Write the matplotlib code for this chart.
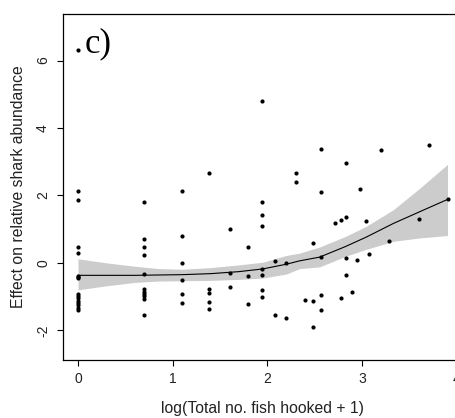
import matplotlib
matplotlib.use("Agg")
import matplotlib.pyplot as plt
import numpy as np

plt.rcParams['font.family'] = ['Liberation Sans', 'DejaVu Sans']

# Observed points: x = log(total fish hooked + 1), y = effect
px_x = [0]*16 + [0.693]*11 + [1.099]*6 + [1.386]*5 + [1.609]*3 + [1.792]*3 + \
       [1.946]*8 + [2.079]*2 + [2.197]*2 + [2.303]*2 + [2.398] + [2.485]*3 + \
       [2.565]*5 + [2.71] + [2.773]*2 + [2.833]*4 + [2.89, 2.94, 2.98, 3.04, 3.07, 3.20, 3.28, 3.60, 3.70, 3.90]
px_y = [6.30, 2.14, 1.85, 0.47, 0.29, -0.38, -0.42, -0.46, -0.91, -0.98, -1.05, -1.12, -1.19, -1.26, -1.33, -1.40,
        1.79, 0.70, 0.46, 0.23, -0.32, -0.78, -0.85, -0.92, -0.99, -1.07, -1.55,
        2.14, 0.79, -0.01, -0.52, -0.92, -1.19,
        2.66, -0.78, -0.88, -1.17, -1.37,
        1.01, -0.29, -0.73,
        0.47, -0.38, -1.21,
        4.80, 1.79, 1.42, 1.10, -0.17, -0.36, -0.80, -1.01,
        0.05, -1.55,
        0.00, -1.63,
        2.66, 2.39,
        -1.10,
        0.58, -1.13, -1.91,
        3.38, 2.09, 0.17, -0.95, -1.39,
        1.19,
        1.27, -1.04,
        2.96, 1.37, 0.14, -0.35,
        -0.85, 0.08, 2.18, 1.25, 0.26, 3.35, 0.65, 1.30, 3.48, 1.89]

# Smooth fit and confidence band
fit_x = [0, 0.3, 0.6, 0.85, 1.1, 1.4, 1.7, 1.95, 2.2, 2.34, 2.55, 2.82, 3.04, 3.33, 3.61, 3.9]
fit_y = [-0.37, -0.37, -0.37, -0.36, -0.35, -0.32, -0.26, -0.18, -0.04, 0.06, 0.17, 0.48, 0.76, 1.17, 1.52, 1.88]
fit_hi = [0.12, 0.0, -0.10, -0.17, -0.19, -0.14, -0.06, 0.02, 0.22, 0.29, 0.47, 0.78, 1.08, 1.58, 2.22, 2.92]
fit_lo = [-0.80, -0.68, -0.58, -0.54, -0.53, -0.52, -0.49, -0.45, -0.33, -0.17, -0.12, 0.19, 0.40, 0.64, 0.74, 0.81]

xticks = [0, 1, 2, 3, 4]
yticks = [-2, 0, 2, 4, 6]

fig = plt.figure(figsize=(4.55, 4.18), dpi=100)
ax = fig.add_axes([0.139, 0.1388, 0.877, 0.8278])

ax.fill_between(fit_x, fit_lo, fit_hi, color='#cccccc', linewidth=0, zorder=1)
ax.plot(fit_x, fit_y, color='black', linewidth=0.8, zorder=2)
ax.plot(px_x, px_y, 'o', color='black', markersize=3.0, markeredgewidth=0, zorder=3)

ax.set_xlim(-0.156, 4.056)
ax.set_ylim(-2.88, 7.38)
ax.set_xticks(xticks)
ax.set_yticks(yticks)
ax.set_xticklabels([str(v) for v in xticks])
ax.set_yticklabels([str(v) for v in yticks], rotation=90, va='center')
ax.tick_params(direction='out', length=4.5, width=0.8, labelsize=10, colors='black',
               labelcolor='#222222')
ax.tick_params(axis='x', pad=4.0)
ax.tick_params(axis='y', pad=5.0)
for s in ax.spines.values():
    s.set_linewidth(0.9)

ax.set_xlabel('log(Total no. fish hooked + 1)', fontsize=11.3, color='#222222', va='center')
ax.xaxis.set_label_coords(0.5, -0.139)
ax.set_ylabel('Effect on relative shark abundance', fontsize=11.3, color='#222222', va='center')
ax.yaxis.set_label_coords(-0.111, 0.5)

ax.text(0.074, 6.24, 'c)', fontsize=25, family=['Liberation Serif', 'DejaVu Serif'],
        va='baseline', ha='left', color='black')

fig.savefig('out.png', dpi=100)
